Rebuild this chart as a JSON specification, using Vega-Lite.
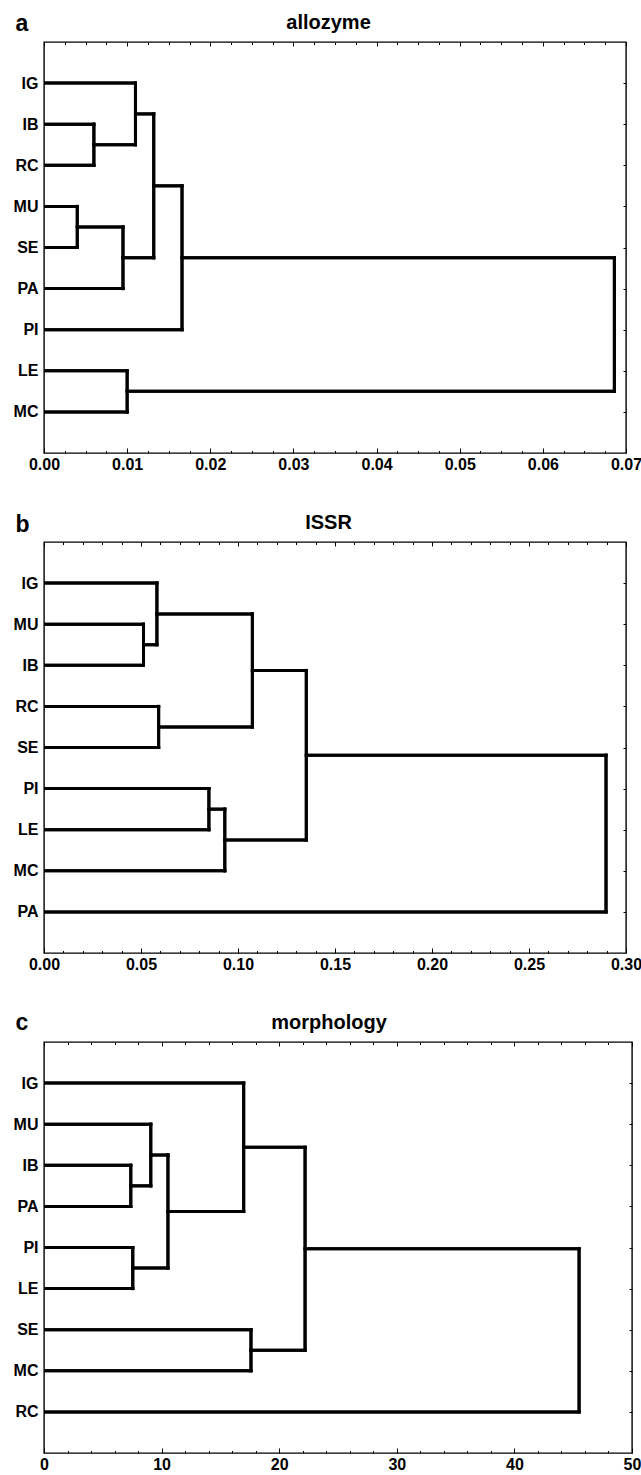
{
  "$schema": "https://vega.github.io/schema/vega-lite/v6.json",
  "background": "white",
  "padding": {"left": 12, "top": 11, "right": 5, "bottom": 5},
  "spacing": 89,
  "bounds": "flush",
  "datasets": {
    "da": [
      {"x":0,"x2":0.006,"y":2,"y2":2},
      {"x":0,"x2":0.006,"y":3,"y2":3},
      {"x":0.006,"x2":0.006,"y":2,"y2":3},
      {"x":0,"x2":0.011,"y":1,"y2":1},
      {"x":0.006,"x2":0.011,"y":2.5,"y2":2.5},
      {"x":0.011,"x2":0.011,"y":1,"y2":2.5},
      {"x":0,"x2":0.004,"y":4,"y2":4},
      {"x":0,"x2":0.004,"y":5,"y2":5},
      {"x":0.004,"x2":0.004,"y":4,"y2":5},
      {"x":0.004,"x2":0.0095,"y":4.5,"y2":4.5},
      {"x":0,"x2":0.0095,"y":6,"y2":6},
      {"x":0.0095,"x2":0.0095,"y":4.5,"y2":6},
      {"x":0.011,"x2":0.0132,"y":1.75,"y2":1.75},
      {"x":0.0095,"x2":0.0132,"y":5.25,"y2":5.25},
      {"x":0.0132,"x2":0.0132,"y":1.75,"y2":5.25},
      {"x":0.0132,"x2":0.0166,"y":3.5,"y2":3.5},
      {"x":0,"x2":0.0166,"y":7,"y2":7},
      {"x":0.0166,"x2":0.0166,"y":3.5,"y2":7},
      {"x":0,"x2":0.01,"y":8,"y2":8},
      {"x":0,"x2":0.01,"y":9,"y2":9},
      {"x":0.01,"x2":0.01,"y":8,"y2":9},
      {"x":0.0166,"x2":0.0686,"y":5.25,"y2":5.25},
      {"x":0.01,"x2":0.0686,"y":8.5,"y2":8.5},
      {"x":0.0686,"x2":0.0686,"y":5.25,"y2":8.5}
    ],
    "db": [
      {"x":0,"x2":0.0513,"y":2,"y2":2},
      {"x":0,"x2":0.0513,"y":3,"y2":3},
      {"x":0.0513,"x2":0.0513,"y":2,"y2":3},
      {"x":0,"x2":0.0582,"y":1,"y2":1},
      {"x":0.0513,"x2":0.0582,"y":2.5,"y2":2.5},
      {"x":0.0582,"x2":0.0582,"y":1,"y2":2.5},
      {"x":0,"x2":0.0591,"y":4,"y2":4},
      {"x":0,"x2":0.0591,"y":5,"y2":5},
      {"x":0.0591,"x2":0.0591,"y":4,"y2":5},
      {"x":0.0582,"x2":0.1074,"y":1.75,"y2":1.75},
      {"x":0.0591,"x2":0.1074,"y":4.5,"y2":4.5},
      {"x":0.1074,"x2":0.1074,"y":1.75,"y2":4.5},
      {"x":0,"x2":0.085,"y":6,"y2":6},
      {"x":0,"x2":0.085,"y":7,"y2":7},
      {"x":0.085,"x2":0.085,"y":6,"y2":7},
      {"x":0.085,"x2":0.0932,"y":6.5,"y2":6.5},
      {"x":0,"x2":0.0932,"y":8,"y2":8},
      {"x":0.0932,"x2":0.0932,"y":6.5,"y2":8},
      {"x":0.1074,"x2":0.1352,"y":3.125,"y2":3.125},
      {"x":0.0932,"x2":0.1352,"y":7.25,"y2":7.25},
      {"x":0.1352,"x2":0.1352,"y":3.125,"y2":7.25},
      {"x":0.1352,"x2":0.2897,"y":5.1875,"y2":5.1875},
      {"x":0,"x2":0.2897,"y":9,"y2":9},
      {"x":0.2897,"x2":0.2897,"y":5.1875,"y2":9}
    ],
    "dc": [
      {"x":0,"x2":7.38,"y":3,"y2":3},
      {"x":0,"x2":7.38,"y":4,"y2":4},
      {"x":7.38,"x2":7.38,"y":3,"y2":4},
      {"x":0,"x2":9.08,"y":2,"y2":2},
      {"x":7.38,"x2":9.08,"y":3.5,"y2":3.5},
      {"x":9.08,"x2":9.08,"y":2,"y2":3.5},
      {"x":0,"x2":7.55,"y":5,"y2":5},
      {"x":0,"x2":7.55,"y":6,"y2":6},
      {"x":7.55,"x2":7.55,"y":5,"y2":6},
      {"x":9.08,"x2":10.54,"y":2.75,"y2":2.75},
      {"x":7.55,"x2":10.54,"y":5.5,"y2":5.5},
      {"x":10.54,"x2":10.54,"y":2.75,"y2":5.5},
      {"x":0,"x2":16.98,"y":1,"y2":1},
      {"x":10.54,"x2":16.98,"y":4.125,"y2":4.125},
      {"x":16.98,"x2":16.98,"y":1,"y2":4.125},
      {"x":0,"x2":17.6,"y":7,"y2":7},
      {"x":0,"x2":17.6,"y":8,"y2":8},
      {"x":17.6,"x2":17.6,"y":7,"y2":8},
      {"x":16.98,"x2":22.2,"y":2.5625,"y2":2.5625},
      {"x":17.6,"x2":22.2,"y":7.5,"y2":7.5},
      {"x":22.2,"x2":22.2,"y":2.5625,"y2":7.5},
      {"x":22.2,"x2":45.5,"y":5.03125,"y2":5.03125},
      {"x":0,"x2":45.5,"y":9,"y2":9},
      {"x":45.5,"x2":45.5,"y":5.03125,"y2":9}
    ]
  },
  "vconcat": [
    {
      "width": 582,
      "height": 411,
      "data": {"name": "da"},
      "layer": [
        {
          "mark": {"type": "rule", "color": "black", "strokeWidth": 3, "strokeCap": "square", "clip": true},
          "encoding": {
            "x": {"field": "x", "type": "quantitative", "scale": {"domain": [0, 0.07], "nice": false, "zero": false},
              "axis": {"orient": "bottom", "title": null,
                "values": [0,0.0025,0.005,0.0075,0.01,0.0125,0.015,0.0175,0.02,0.0225,0.025,0.0275,0.03,0.0325,0.035,0.0375,0.04,0.0425,0.045,0.0475,0.05,0.0525,0.055,0.0575,0.06,0.0625,0.065,0.0675,0.07],
                "labelExpr": "abs(datum.value*100 - round(datum.value*100)) < 0.001 ? format(datum.value, '.2f') : ''",
                "tickSize": {"condition": {"test": "abs(datum.value*100 - round(datum.value*100)) < 0.001", "value": -5}, "value": -2.5},
                "labelPadding": 8}},
            "x2": {"field": "x2"},
            "y": {"field": "y", "type": "quantitative", "scale": {"domain": [0, 10], "nice": false, "zero": false, "reverse": true},
              "axis": {"orient": "left", "values": [1,2,3,4,5,6,7,8,9], "ticks": false, "labelPadding": 6,
                "labelExpr": "['','IG','IB','RC','MU','SE','PA','PI','LE','MC'][datum.value]",
                "title": "a", "titleAngle": 0, "titleAlign": "left", "titleBaseline": "alphabetic", "titleX": -29, "titleY": -12, "titleFontSize": 23}},
            "y2": {"field": "y2"}
          }
        },
        {
          "mark": {"type": "rule", "color": "black", "strokeWidth": 3, "strokeCap": "square", "clip": true},
          "encoding": {
            "x": {"field": "x", "type": "quantitative",
              "axis": {"orient": "top", "labels": false,
                "values": [0,0.0025,0.005,0.0075,0.01,0.0125,0.015,0.0175,0.02,0.0225,0.025,0.0275,0.03,0.0325,0.035,0.0375,0.04,0.0425,0.045,0.0475,0.05,0.0525,0.055,0.0575,0.06,0.0625,0.065,0.0675,0.07],
                "tickSize": {"condition": {"test": "abs(datum.value*100 - round(datum.value*100)) < 0.001", "value": -4}, "value": -2.5},
                "title": "allozyme", "titleAngle": 0, "titleAlign": "center", "titleBaseline": "alphabetic", "titleX": 284, "titleY": -13.5, "titleFontSize": 20}},
            "x2": {"field": "x2"},
            "y": {"field": "y", "type": "quantitative",
              "axis": {"orient": "right", "values": [1,2,3,4,5,6,7,8,9], "labels": false, "tickSize": -3, "title": null}},
            "y2": {"field": "y2"}
          }
        }
      ],
      "resolve": {"axis": {"x": "independent", "y": "independent"}}
    },
    {
      "width": 582,
      "height": 411,
      "data": {"name": "db"},
      "layer": [
        {
          "mark": {"type": "rule", "color": "black", "strokeWidth": 3, "strokeCap": "square", "clip": true},
          "encoding": {
            "x": {"field": "x", "type": "quantitative", "scale": {"domain": [0, 0.3], "nice": false, "zero": false},
              "axis": {"orient": "bottom", "title": null,
                "values": [0,0.01,0.02,0.03,0.04,0.05,0.06,0.07,0.08,0.09,0.1,0.11,0.12,0.13,0.14,0.15,0.16,0.17,0.18,0.19,0.2,0.21,0.22,0.23,0.24,0.25,0.26,0.27,0.28,0.29,0.3],
                "labelExpr": "abs(datum.value*20 - round(datum.value*20)) < 0.001 ? format(datum.value, '.2f') : ''",
                "tickSize": {"condition": {"test": "abs(datum.value*20 - round(datum.value*20)) < 0.001", "value": -5}, "value": -2.5},
                "labelPadding": 8}},
            "x2": {"field": "x2"},
            "y": {"field": "y", "type": "quantitative", "scale": {"domain": [0, 10], "nice": false, "zero": false, "reverse": true},
              "axis": {"orient": "left", "values": [1,2,3,4,5,6,7,8,9], "ticks": false, "labelPadding": 6,
                "labelExpr": "['','IG','MU','IB','RC','SE','PI','LE','MC','PA'][datum.value]",
                "title": "b", "titleAngle": 0, "titleAlign": "left", "titleBaseline": "alphabetic", "titleX": -29, "titleY": -11, "titleFontSize": 23}},
            "y2": {"field": "y2"}
          }
        },
        {
          "mark": {"type": "rule", "color": "black", "strokeWidth": 3, "strokeCap": "square", "clip": true},
          "encoding": {
            "x": {"field": "x", "type": "quantitative",
              "axis": {"orient": "top", "labels": false,
                "values": [0,0.01,0.02,0.03,0.04,0.05,0.06,0.07,0.08,0.09,0.1,0.11,0.12,0.13,0.14,0.15,0.16,0.17,0.18,0.19,0.2,0.21,0.22,0.23,0.24,0.25,0.26,0.27,0.28,0.29,0.3],
                "tickSize": {"condition": {"test": "abs(datum.value*20 - round(datum.value*20)) < 0.001", "value": -4}, "value": -2.5},
                "title": "ISSR", "titleAngle": 0, "titleAlign": "center", "titleBaseline": "alphabetic", "titleX": 284, "titleY": -13.5, "titleFontSize": 20}},
            "x2": {"field": "x2"},
            "y": {"field": "y", "type": "quantitative",
              "axis": {"orient": "right", "values": [1,2,3,4,5,6,7,8,9], "labels": false, "tickSize": -3, "title": null}},
            "y2": {"field": "y2"}
          }
        }
      ],
      "resolve": {"axis": {"x": "independent", "y": "independent"}}
    },
    {
      "width": 588,
      "height": 411,
      "data": {"name": "dc"},
      "layer": [
        {
          "mark": {"type": "rule", "color": "black", "strokeWidth": 3, "strokeCap": "square", "clip": true},
          "encoding": {
            "x": {"field": "x", "type": "quantitative", "scale": {"domain": [0, 50], "nice": false, "zero": false},
              "axis": {"orient": "bottom", "title": null,
                "values": [0,2,4,6,8,10,12,14,16,18,20,22,24,26,28,30,32,34,36,38,40,42,44,46,48,50],
                "labelExpr": "datum.value % 10 === 0 ? format(datum.value, 'd') : ''",
                "tickSize": {"condition": {"test": "datum.value % 10 === 0", "value": -5}, "value": -2.5},
                "labelPadding": 8}},
            "x2": {"field": "x2"},
            "y": {"field": "y", "type": "quantitative", "scale": {"domain": [0, 10], "nice": false, "zero": false, "reverse": true},
              "axis": {"orient": "left", "values": [1,2,3,4,5,6,7,8,9], "ticks": false, "labelPadding": 6,
                "labelExpr": "['','IG','MU','IB','PA','PI','LE','SE','MC','RC'][datum.value]",
                "title": "c", "titleAngle": 0, "titleAlign": "left", "titleBaseline": "alphabetic", "titleX": -29, "titleY": -13, "titleFontSize": 23}},
            "y2": {"field": "y2"}
          }
        },
        {
          "mark": {"type": "rule", "color": "black", "strokeWidth": 3, "strokeCap": "square", "clip": true},
          "encoding": {
            "x": {"field": "x", "type": "quantitative",
              "axis": {"orient": "top", "labels": false,
                "values": [0,2,4,6,8,10,12,14,16,18,20,22,24,26,28,30,32,34,36,38,40,42,44,46,48,50],
                "tickSize": {"condition": {"test": "datum.value % 10 === 0", "value": -4}, "value": -2.5},
                "title": "morphology", "titleAngle": 0, "titleAlign": "center", "titleBaseline": "alphabetic", "titleX": 284.5, "titleY": -13.5, "titleFontSize": 20}},
            "x2": {"field": "x2"},
            "y": {"field": "y", "type": "quantitative",
              "axis": {"orient": "right", "values": [1,2,3,4,5,6,7,8,9], "labels": false, "tickSize": -3, "title": null}},
            "y2": {"field": "y2"}
          }
        }
      ],
      "resolve": {"axis": {"x": "independent", "y": "independent"}}
    }
  ],
  "config": {
    "font": "Liberation Sans",
    "view": {"stroke": "black", "strokeWidth": 1.4},
    "axis": {
      "domain": false, "grid": false,
      "labelFont": "Liberation Sans", "labelFontWeight": "bold", "labelFontSize": 16, "labelColor": "black",
      "labelFlush": false, "labelOverlap": false, "labelBound": false,
      "tickColor": "black", "tickWidth": 1,
      "titleFont": "Liberation Sans", "titleFontWeight": "bold", "titleColor": "black"
    }
  }
}
